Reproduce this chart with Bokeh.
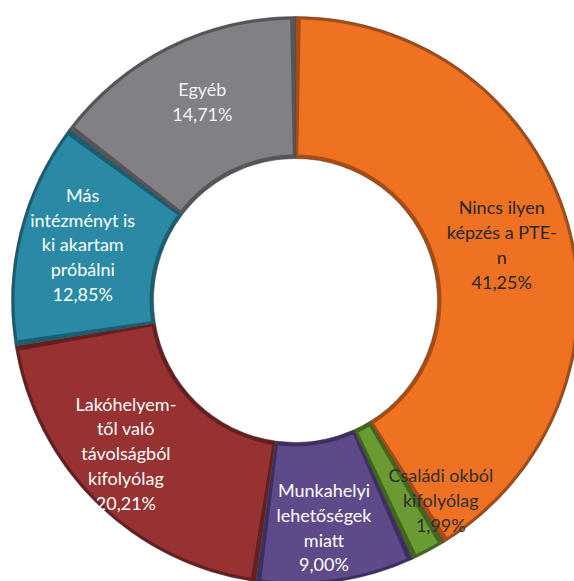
import numpy as np
from bokeh.plotting import figure
from bokeh.models import Range1d, ColumnDataSource
from bokeh.core.properties import value
from bokeh.embed import file_html
from bokeh.resources import INLINE

# ---- data (clockwise from 12 o'clock) ----
labels = ["Nincs ilyen\nképzés a PTE-\nn", "Családi okból\nkifolyólag",
          "Munkahelyi\nlehetőségek\nmiatt", "Lakóhelyem-\ntől való\ntávolságból\nkifolyólag",
          "Más\nintézményt is\nki akartam\npróbálni", "Egyéb"]
pct_text = ["41,25%", "1,99%", "9,00%", "20,21%", "12,85%", "14,71%"]
values = [41.25, 1.99, 9.00, 20.21, 12.85, 14.71]

# ---- styles ----
colors = ["#EE7222", "#6A9A31", "#5E4A89", "#973132", "#2A8AA6", "#818185"]
edge_colors = ["#A84C14", "#41661C", "#3E2F63", "#661F20", "#1A5E72", "#56565A"]
text_colors = ["#262626", "#2E2E2E", "#FFFFFF", "#FFFFFF", "#FFFFFF", "#F2F2F2"]

W, H = 574, 581
p = figure(width=W, height=H, output_backend="svg", toolbar_location=None,
           x_range=Range1d(0, W), y_range=Range1d(0, H),
           min_border=0, border_fill_color="white", background_fill_color="white")
p.axis.visible = False
p.grid.visible = False
p.outline_line_color = None

cx, cy = 295, 281
r_in, r_out = 142, 284

vals = np.array(values)
frac = vals / vals.sum()
cum_end = np.cumsum(frac)
cum_start = cum_end - frac
start = np.pi / 2 - cum_end * 2 * np.pi
end = np.pi / 2 - cum_start * 2 * np.pi
mid = (start + end) / 2

# base (darker edges) + inset face for bevel look
src = ColumnDataSource(dict(start=start, end=end, color=colors, edge=edge_colors))
p.annular_wedge(x=cx, y=cy, inner_radius=r_in, outer_radius=r_out,
                start_angle="start", end_angle="end", fill_color="edge",
                line_color="#3a3a3a", line_width=0.5, source=src)
inset = 4.0 / 213
src2 = ColumnDataSource(dict(start=start + inset, end=end - inset, color=colors))
p.annular_wedge(x=cx, y=cy, inner_radius=r_in + 4, outer_radius=r_out - 3,
                start_angle="start", end_angle="end", fill_color="color",
                line_color=None, source=src2)

# labels at middle radius of each slice, with Excel-like nudges
lr = np.array([206, 212, 222, 218, 212, 200], dtype=float)
lx = cx + lr * np.cos(mid)
ly = cy + lr * np.sin(mid)
nudge_x = np.array([8, 46, -3, -17, -7, -4], dtype=float)
nudge_y = np.array([0, -12, -7, 3, 5, 20], dtype=float)
lx = lx + nudge_x
ly = ly + nudge_y
full = [l + "\n" + t for l, t in zip(labels, pct_text)]
tsrc = ColumnDataSource(dict(x=lx, y=ly, text=full, tc=text_colors))
p.text(x="x", y="y", text="text", source=tsrc, text_color="tc",
       text_font=value("Lato"), text_font_size="18px", text_align="center",
       text_baseline="middle", text_line_height=1.125)

open("out.html", "w").write(file_html(p, INLINE))
